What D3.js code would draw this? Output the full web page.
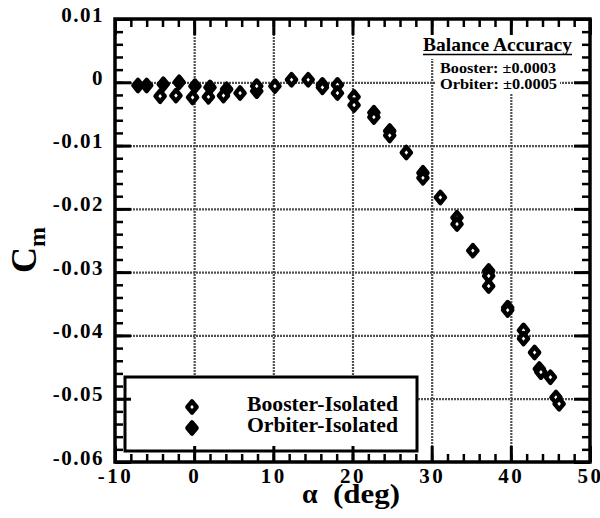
<!DOCTYPE html>
<meta charset="utf-8">
<style>
  body { margin: 0; background: #fff; }
  text { font-family: "Liberation Serif", "Times New Roman", serif; font-weight: bold; fill: #000; }
  .tick-lbl { font-size: 21px; letter-spacing: 1.5px; }
</style>
<script src="https://d3js.org/d3.v7.min.js"></script>
<div id="chart"></div>
<script>
  // tick labels
  const xTicks = [-10, 0, 10, 20, 30, 40, 50]
  const yTicks = [0.01, 0, -0.01, -0.02, -0.03, -0.04, -0.05, -0.06]
  const xGrid = [0, 10, 20, 30, 40]
  const yGrid = [0, -0.01, -0.02, -0.03, -0.04, -0.05]

  // Booster-Isolated (hollow diamonds)
  const boosterAlpha = [-4.3, -2.3, -0.2, 1.8, 3.7, 5.8, 7.9, 10.2, 12.3, 14.4, 16.2, 16.2, 18.1, 18.1,
                        20.2, 20.2, 22.7, 22.7, 24.7, 24.7, 26.8, 28.9, 28.9, 31.1, 33.2, 33.2, 35.2,
                        37.2, 37.2, 37.2, 39.6, 39.6, 41.6, 41.6, 43.0, 43.6, 43.8, 45.0, 45.7, 46.1]
  const boosterCm = [-0.0022, -0.0021, -0.0024, -0.0023, -0.0021, -0.0017, -0.0006, -0.0006, 0.0004, 0.0004,
                     -0.0004, -0.0008, -0.0004, -0.0017, -0.0023, -0.0036, -0.0048, -0.0055, -0.0077, -0.0084,
                     -0.0111, -0.0143, -0.0151, -0.0182, -0.0214, -0.0224, -0.0266, -0.0298, -0.0306, -0.0322,
                     -0.0356, -0.0360, -0.0392, -0.0405, -0.0427, -0.0453, -0.0458, -0.0466, -0.0498, -0.0508]

  // Orbiter-Isolated (filled diamonds)
  const orbiterAlpha = [-7.1, -6.0, -3.9, -1.9, 0.1, 2.0, 4.1, 7.9]
  const orbiterCm = [-0.0005, -0.0005, -0.0003, 0.0, -0.0006, -0.0008, -0.0011, -0.0014]

  const legendNames = ["Booster-Isolated", "Orbiter-Isolated"]

  const W = 600, H = 518
  const pl = 115, pr = 590, pt = 19, pb = 462

  const svg = d3.select("#chart").append("svg")
      .attr("width", W).attr("height", H)

  const x = d3.scaleLinear().domain([-10, 50]).range([pl, pr])
  const y = d3.scaleLinear().domain([-0.06, 0.01]).range([pb, pt])

  // dotted grid, drawn through the axis generators
  svg.append("g").attr("class", "gridx")
      .attr("transform", `translate(0,${pb})`)
      .call(d3.axisBottom(x).tickValues(xGrid).tickSize(-(pb - pt)).tickFormat(""))
  svg.append("g").attr("class", "gridy")
      .attr("transform", `translate(${pl},0)`)
      .call(d3.axisLeft(y).tickValues(yGrid).tickSize(-(pr - pl)).tickFormat(""))
  svg.selectAll(".gridx .domain, .gridy .domain").remove()
  svg.selectAll(".gridx .tick line, .gridy .tick line")
      .attr("stroke", "#505050").attr("stroke-width", 2.2).attr("stroke-dasharray", "2,1")

  // white boxes behind the accuracy note
  svg.append("rect").attr("x", 420).attr("y", pt + 2).attr("width", 157).attr("height", 38).attr("fill", "#fff")
  svg.append("rect").attr("x", 435).attr("y", 58).attr("width", 125).attr("height", 36).attr("fill", "#fff")

  // legend box
  svg.append("rect")
      .attr("x", 125).attr("y", 377).attr("width", 292).attr("height", 74)
      .attr("fill", "#fff").attr("stroke", "#000").attr("stroke-width", 3)

  const diamond = "M0,-5.6L4.6,0L0,5.6L-4.6,0Z"

  // data points
  const orbiter = orbiterAlpha.map((a, i) => ({a: a, cm: orbiterCm[i]}))
  const booster = boosterAlpha.map((a, i) => ({a: a, cm: boosterCm[i]}))

  svg.append("g").selectAll("path").data(orbiter).join("path")
      .attr("d", diamond)
      .attr("transform", d => `translate(${x(d.a)},${y(d.cm)})`)
      .attr("fill", "#000").attr("stroke", "#000")
      .attr("stroke-width", 4.4).attr("stroke-linejoin", "round")

  svg.append("g").selectAll("path").data(booster).join("path")
      .attr("d", diamond)
      .attr("transform", d => `translate(${x(d.a)},${y(d.cm)})`)
      .attr("fill", "#fff").attr("stroke", "#000")
      .attr("stroke-width", 4.4).attr("stroke-linejoin", "round")

  // axes: major + minor ticks on all four sides, pointing inward
  const xMinor = d3.range(-10, 50.1, 2)
  const yMinor = d3.range(-0.06, 0.0101, 0.002)

  function styleAxis(g, w) {
    g.select(".domain").remove()
    g.selectAll(".tick line").attr("stroke", "#000").attr("stroke-width", w)
  }

  svg.append("g").attr("transform", `translate(0,${pb})`)
      .call(d3.axisBottom(x).tickValues(xMinor).tickSize(-8).tickFormat(""))
      .call(g => styleAxis(g, 2.5))
  svg.append("g").attr("transform", `translate(0,${pt})`)
      .call(d3.axisTop(x).tickValues(xMinor).tickSize(-8).tickFormat(""))
      .call(g => styleAxis(g, 2.5))
  svg.append("g").attr("transform", `translate(${pl},0)`)
      .call(d3.axisLeft(y).tickValues(yMinor).tickSize(-8).tickFormat(""))
      .call(g => styleAxis(g, 2.5))
  svg.append("g").attr("transform", `translate(${pr},0)`)
      .call(d3.axisRight(y).tickValues(yMinor).tickSize(-8).tickFormat(""))
      .call(g => styleAxis(g, 2.5))

  const xAxis = svg.append("g").attr("transform", `translate(0,${pb})`)
      .call(d3.axisBottom(x).tickValues(xTicks).tickSize(-16).tickPadding(6).tickFormat(d => String(d)))
      .call(g => styleAxis(g, 3))
  xAxis.attr("font-family", null).attr("font-size", null)
  xAxis.selectAll("text").attr("class", "tick-lbl").style("letter-spacing", "2.5px")

  const yAxis = svg.append("g").attr("transform", `translate(${pl},0)`)
      .call(d3.axisLeft(y).tickValues(yTicks).tickSize(-16).tickPadding(11)
        .tickFormat(d => Math.abs(d) < 1e-9 ? "0" : d.toFixed(2)))
      .call(g => styleAxis(g, 3))
  yAxis.attr("font-family", null).attr("font-size", null)
  yAxis.selectAll("text").attr("class", "tick-lbl").attr("dy", "2px")

  svg.append("g").attr("transform", `translate(0,${pt})`)
      .call(d3.axisTop(x).tickValues(xTicks).tickSize(-16).tickFormat(""))
      .call(g => styleAxis(g, 3))
  svg.append("g").attr("transform", `translate(${pr},0)`)
      .call(d3.axisRight(y).tickValues(yTicks).tickSize(-16).tickFormat(""))
      .call(g => styleAxis(g, 3))

  // frame
  svg.append("rect")
      .attr("x", pl).attr("y", pt).attr("width", pr - pl).attr("height", pb - pt)
      .attr("fill", "none").attr("stroke", "#000").attr("stroke-width", 3.5)

  // legend entries
  legendNames.forEach((name, i) => {
    const ly = 407 + i * 21
    svg.append("path").attr("d", diamond)
        .attr("transform", `translate(192,${ly})`)
        .attr("fill", i === 0 ? "#fff" : "#000").attr("stroke", "#000")
        .attr("stroke-width", 4.4).attr("stroke-linejoin", "round")
    svg.append("text").attr("x", 247).attr("y", ly + 4)
        .attr("font-size", 20).attr("textLength", 151).attr("lengthAdjust", "spacingAndGlyphs")
        .text(name)
  })

  // accuracy note
  svg.append("text").attr("x", 423).attr("y", 51)
      .attr("font-size", 19).attr("textLength", 149).attr("lengthAdjust", "spacingAndGlyphs")
      .text("Balance Accuracy")
  svg.append("line").attr("x1", 423).attr("x2", 572).attr("y1", 54.5).attr("y2", 54.5)
      .attr("stroke", "#000").attr("stroke-width", 1.5)
  svg.append("text").attr("x", 440).attr("y", 73)
      .attr("font-size", 15.5).attr("textLength", 116).attr("lengthAdjust", "spacingAndGlyphs")
      .text("Booster: \u00b10.0003")
  svg.append("text").attr("x", 440).attr("y", 88.5)
      .attr("font-size", 15.5).attr("textLength", 117).attr("lengthAdjust", "spacingAndGlyphs")
      .text("Orbiter:  \u00b10.0005")

  // axis titles
  svg.append("text")
      .attr("transform", "translate(36,273) rotate(-90)")
      .attr("font-size", 36)
      .text("C")
      .append("tspan").attr("font-size", 24).attr("dy", 9).text("m")

  svg.append("text").attr("x", 302).attr("y", 503).attr("font-size", 28).text("\u03b1")
  svg.append("text").attr("x", 333).attr("y", 503).attr("font-size", 28)
      .attr("textLength", 67).attr("lengthAdjust", "spacingAndGlyphs").text("(deg)")
</script>
